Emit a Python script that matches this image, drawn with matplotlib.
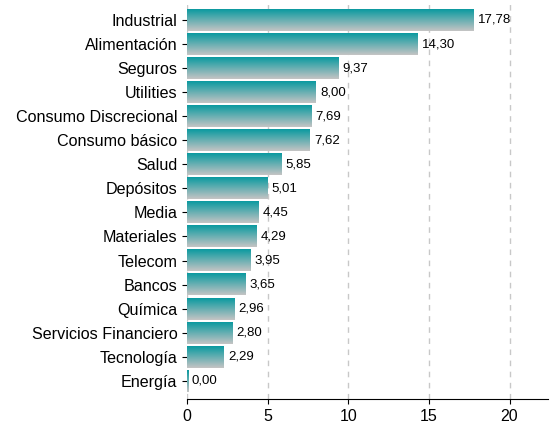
import numpy as np
import matplotlib
matplotlib.use("Agg")
import matplotlib.pyplot as plt
from matplotlib.colors import LinearSegmentedColormap

plt.rcParams['font.family'] = ['Liberation Sans', 'DejaVu Sans']

sectors = ["Industrial", "Alimentación", "Seguros", "Utilities", "Consumo Discrecional",
           "Consumo básico", "Salud", "Depósitos", "Media", "Materiales", "Telecom",
           "Bancos", "Química", "Servicios Financiero", "Tecnología", "Energía"]
values = [17.78, 14.30, 9.37, 8.00, 7.69, 7.62, 5.85, 5.01, 4.45, 4.29, 3.95,
          3.65, 2.96, 2.80, 2.29, 0.00]

fig = plt.figure(figsize=(5.6, 4.28), dpi=100)
ax = fig.add_axes([0.334, 0.068, 0.645, 0.932])

ypos = np.arange(len(sectors))
bars = ax.barh(ypos, values, height=0.9, color="none", edgecolor="none")

# teal on top fading to gray at the bottom of each bar
cmap = LinearSegmentedColormap.from_list("tg", ["#0b9aa0", "#c4c4c4"])
grad = np.linspace(0, 1, 64).reshape(-1, 1)
for b in bars:
    x0, y0, w, h = b.get_x(), b.get_y(), b.get_width(), b.get_height()
    w = max(w, 0.08)
    ax.imshow(grad, cmap=cmap, aspect="auto", origin="upper",
              extent=(x0, x0 + w, y0 + h, y0), zorder=2)

for y, v in zip(ypos, values):
    ax.text(v + 0.25, y, f"{v:.2f}".replace(".", ","), va="center", ha="left", fontsize=9.5)

ax.set_yticks(ypos)
ax.set_yticklabels(sectors, fontsize=11.6)
ax.set_xticks([0, 5, 10, 15, 20])
ax.tick_params(axis="x", labelsize=11.5)
ax.set_xlim(0, 22.4)
ax.set_ylim(15.75, -0.83)

ax.grid(axis="x", color="#c8c8c8", linestyle=(0, (4, 4)), linewidth=1)
ax.set_axisbelow(True)
for s in ["top", "right", "left"]:
    ax.spines[s].set_visible(False)

fig.savefig("out.png", dpi=100)
